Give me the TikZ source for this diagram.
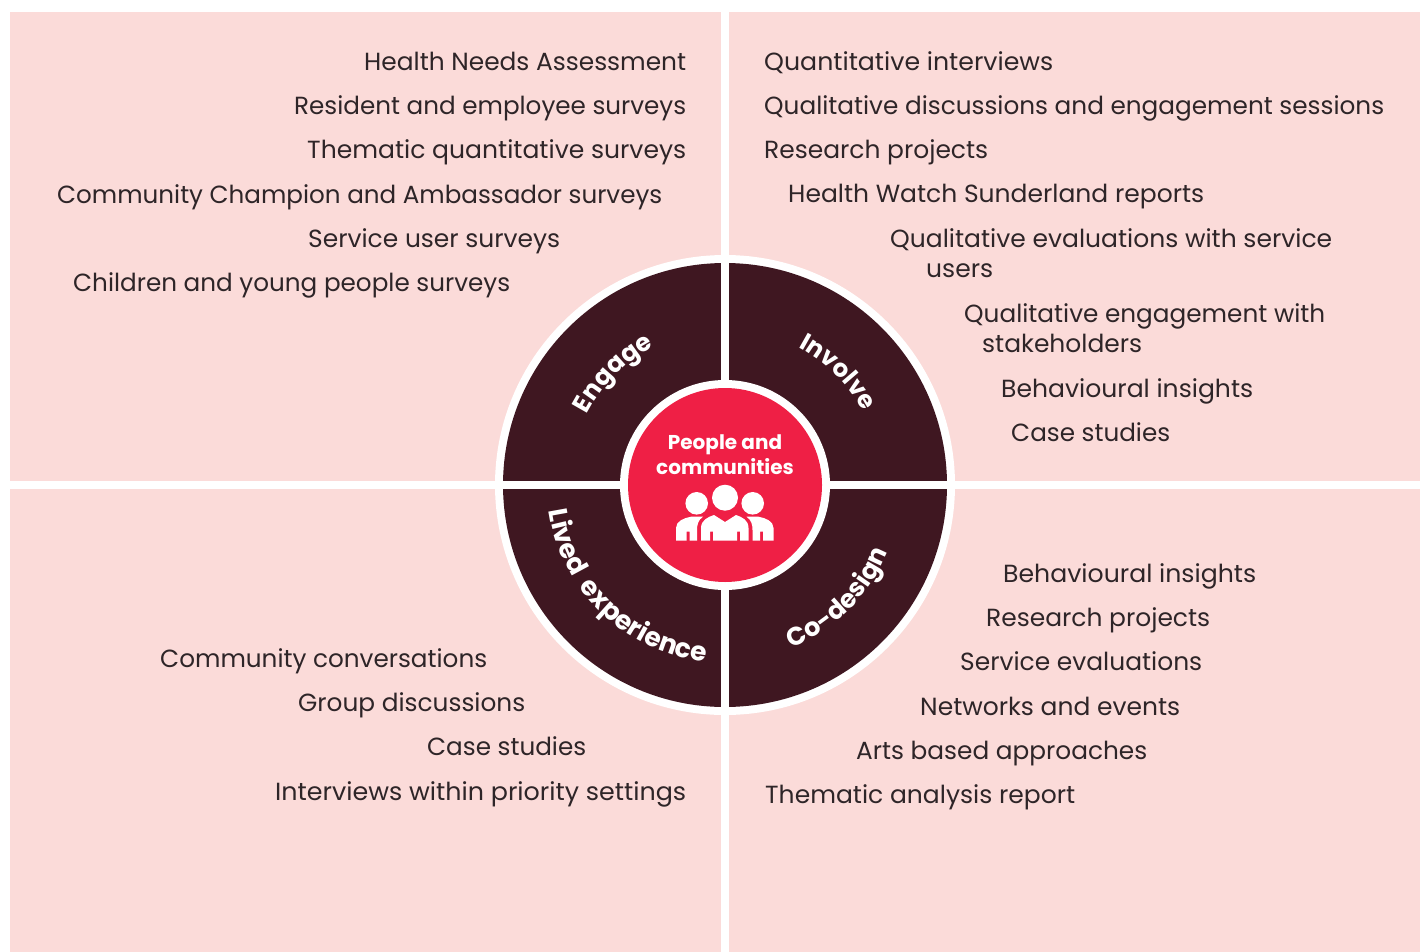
\documentclass[tikz,border=0pt]{standalone}
\usepackage{graphicx}
\usepackage{fontspec}
\setmainfont{Poppins}
\usetikzlibrary{decorations.text}
\definecolor{pinkbg}{HTML}{FBDBD9}
\definecolor{wine}{HTML}{3F1721}
\definecolor{redc}{HTML}{EF1F45}
\definecolor{ink}{HTML}{2E2528}
\newcommand{\fitw}[2]{\resizebox{#1pt}{\height}{#2}}
\tikzset{
  item/.style={font=\fontsize{24.8}{28}\selectfont, text=ink, inner sep=0pt, anchor=base west},
  ringlabel/.style 2 args={decorate, decoration={text along path, text align=center, text={|\fontsize{#1}{28}\selectfont\bfseries\color{white}|#2}}},
}
\begin{document}
\begin{tikzpicture}[x=1pt,y=1pt]
\useasboundingbox (0,-952) rectangle (1420,0);
\fill[pinkbg] (10,-12) rectangle (1420,-952);
\fill[white] (721,0) rectangle (729,-952);
\fill[white] (10,-481) rectangle (1420,-489);
\coordinate (c) at (725,-485);
\fill[white] (c) circle (230);
\fill[wine] (c) circle (222);
\fill[white] (721,-255) rectangle (729,-715);
\fill[white] (495,-481) rectangle (955,-489);
\fill[white] (c) circle (105);
\node[circle, fill=redc, minimum size=194pt, inner sep=0pt] (hub) at (c) {};
\node[align=center, text=white, inner sep=0pt, font=\fontsize{20}{25}\selectfont\bfseries] (hubtext) at (725,-454.5) {People and\\communities};
% icon
\fill[white] (725,-497.7) circle (13);
\fill[white] (696.7,-503.3) circle (11.3);
\fill[white] (752.7,-503.3) circle (11.3);
\fill[white] (701,-540.7) -- (701,-528) .. controls (701,-520) and (708,-517) .. (714,-515) -- (725,-522) -- (736,-515) .. controls (742,-517) and (748.5,-520) .. (748.5,-528) -- (748.5,-540.7) -- (740,-540.7) -- (740,-531.7) -- (737,-531.7) -- (737,-540.7) -- (713,-540.7) -- (713,-531.7) -- (710,-531.7) -- (710,-540.7) -- cycle;
\fill[white] (676,-540.7) -- (676,-528) .. controls (676,-521) and (684,-518) .. (691,-516.7) -- (703,-516.7) .. controls (698,-520) and (697,-525) .. (697,-530) -- (697,-540.7) -- (689.5,-540.7) -- (689.5,-531.7) -- (686.5,-531.7) -- (686.5,-540.7) -- cycle;
\fill[white] (773.5,-540.7) -- (773.5,-528) .. controls (773.5,-521) and (765.5,-518) .. (758.5,-516.7) -- (746.5,-516.7) .. controls (751.5,-520) and (752.5,-525) .. (752.5,-530) -- (752.5,-540.7) -- (760,-540.7) -- (760,-531.7) -- (763,-531.7) -- (763,-540.7) -- cycle;
% ring labels
\path[ringlabel={25}{Engage}] (c) ++(225:155) arc[start angle=225, end angle=45, radius=155];
\path[ringlabel={24.5}{Involve}] (c) ++(135:156) arc[start angle=135, end angle=-45, radius=156];
\path[ringlabel={26.5}{Lived{\ \ }experience}] (c) ++(136:178) arc[start angle=136, end angle=316, radius=178];
\path[ringlabel={25.5}{Co-design}] (c) ++(225:176) arc[start angle=225, end angle=405, radius=176];
% items
\node[item] (a1) at (364,-71) {\fitw{322}{Health Needs Assessment}};
\node[item] (a2) at (294,-115) {\fitw{392}{Resident and employee surveys}};
\node[item] (a3) at (307,-159) {\fitw{379}{Thematic quantitative surveys}};
\node[item] (a4) at (57,-203) {\fitw{605}{Community Champion and Ambassador surveys}};
\node[item] (a5) at (308,-247) {\fitw{252}{Service user surveys}};
\node[item] (a6) at (73,-291) {\fitw{437}{Children and young people surveys}};
\node[item] (b1) at (764,-71) {\fitw{289}{Quantitative interviews}};
\node[item] (b2) at (764,-115) {\fitw{620}{Qualitative discussions and engagement sessions}};
\node[item] (b3) at (764,-159) {\fitw{224}{Research projects}};
\node[item] (b4) at (788,-203) {\fitw{416}{Health Watch Sunderland reports}};
\node[item] (b5) at (890,-247) {\fitw{442}{Qualitative evaluations with service}};
\node[item] (b6) at (926,-277) {\fitw{67}{users}};
\node[item] (b7) at (964,-322) {\fitw{361}{Qualitative engagement with}};
\node[item] (b8) at (982,-352) {\fitw{160}{stakeholders}};
\node[item] (b9) at (1001,-397) {\fitw{252}{Behavioural insights}};
\node[item] (b10) at (1011,-441) {\fitw{159}{Case studies}};
\node[item] (d1) at (1003,-582) {\fitw{253}{Behavioural insights}};
\node[item] (d2) at (986,-626) {\fitw{224}{Research projects}};
\node[item] (d3) at (960,-670) {\fitw{242}{Service evaluations}};
\node[item] (d4) at (920,-715) {\fitw{260}{Networks and events}};
\node[item] (d5) at (856,-759) {\fitw{291}{Arts based approaches}};
\node[item] (d6) at (765,-803) {\fitw{310}{Thematic analysis report}};
\node[item] (e1) at (160,-667) {\fitw{327}{Community conversations}};
\node[item] (e2) at (298,-711) {\fitw{227}{Group discussions}};
\node[item] (e3) at (427,-755) {\fitw{159}{Case studies}};
\node[item] (e4) at (275,-800) {\fitw{411}{Interviews within priority settings}};
\end{tikzpicture}
\end{document}
